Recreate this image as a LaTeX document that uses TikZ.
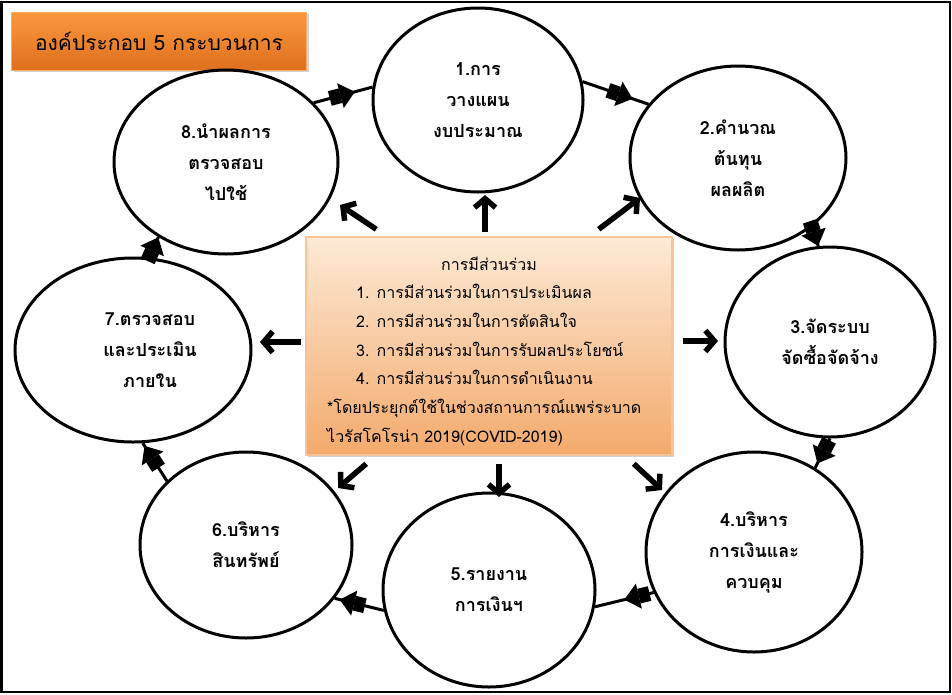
\documentclass[tikz,border=0pt]{standalone}
\usepackage{fontspec}
\newfontfamily\thaifont[Script=Thai]{Loma}
\usetikzlibrary{shapes.geometric, positioning, arrows.meta, decorations.markings, shadows}

\definecolor{titletop}{RGB}{250,152,62}
\definecolor{titlebot}{RGB}{222,112,30}
\definecolor{paneltop}{RGB}{253,234,214}
\definecolor{panelbot}{RGB}{243,170,108}

\begin{document}
\begin{tikzpicture}[x=1pt, y=-1pt]
    \tikzset{
        stage/.style={
            ellipse,
            draw=black,
            line width=3pt,
            inner sep=0pt,
            align=center,
            font=\thaifont\bfseries\fontsize{18}{31}\selectfont
        },
        ring/.style={
            line width=3pt,
            postaction={decorate, decoration={markings,
                mark=at position #1 with {\arrow{Rectangle[length=11pt,width=15pt] Triangle[length=15pt,width=25pt]}}}}
        },
        spoke/.style={line width=5.5pt, -{Straight Barb[length=9pt,width=21pt]}},
        boxtext/.style={anchor=base west, inner sep=0pt, font=\thaifont\fontsize{16}{18}\selectfont}
    }

    \fill[white] (0,0) rectangle (952,694);
    \useasboundingbox (0,0) rectangle (952,694);
    \draw[line width=2.5pt] (1.5,2) rectangle (950,692);

    % title
    \node[rectangle, draw=titletop!80!white, top color=titletop, bottom color=titlebot,
          drop shadow={opacity=0.35}, minimum width=295pt, minimum height=58pt,
          font=\thaifont\fontsize{21}{24}\selectfont] (head) at (159,41) {องค์ประกอบ 5 กระบวนการ};

    % the eight stages
    \node[stage, minimum width=210pt, minimum height=184pt] (c1) at (478,100) {1.การ\\วางแผน\\งบประมาณ};
    \node[stage, minimum width=216pt, minimum height=184pt] (c2) at (738,158) {2.คำนวณ\\ต้นทุน\\ผลผลิต};
    \node[stage, minimum width=210pt, minimum height=190pt] (c3) at (830,342) {3.จัดระบบ\\จัดซื้อจัดจ้าง};
    \node[stage, minimum width=216pt, minimum height=200pt] (c4) at (754,552) {4.บริหาร\\การเงินและ\\ควบคุม};
    \node[stage, minimum width=212pt, minimum height=194pt] (c5) at (489,590) {5.รายงาน\\การเงินฯ};
    \node[stage, minimum width=212pt, minimum height=186pt] (c6) at (246,545) {6.บริหาร\\สินทรัพย์};
    \node[stage, minimum width=236pt, minimum height=184pt,
          label={[stage, draw=none, xshift=17pt]center:7.ตรวจสอบ\\และประเมิน\\ภายใน}] (c7) at (133,350) {};
    \node[stage, minimum width=224pt, minimum height=184pt] (c8) at (226,162) {8.นำผลการ\\ตรวจสอบ\\ไปใช้};

    % cycle
    \draw[ring=0.7] (c8.34) -- (c1.173);
    \draw[ring=0.76] (c1.10) -- (c2.149);
    \draw[ring=0.99] (c2.-43) -- (c3.97);
    \draw[ring=0.85] (c3.-90) -- (c4.54);
    \draw[ring=0.5] (c4.202) -- (c5.-9);
    \draw[ring=0.9] (c5.191) -- (c6.-31);
    \draw[ring=0.93] (c6.141) -- (c7.-84);
    \draw[ring=0.99] (c7.80) -- (c8.228);

    % centre panel
    \node[rectangle, draw=panelbot!70!white, line width=1.5pt, top color=paneltop, bottom color=panelbot,
          drop shadow={opacity=0.35}, minimum width=366pt, minimum height=218pt] (box) at (489,346) {};

    \node[boxtext, anchor=base] (ptitle) at (489,270) {การมีส่วนร่วม};
    \node[boxtext] (p1) at (356,298) {1. การมีส่วนร่วมในการประเมินผล};
    \node[boxtext] (p2) at (356,327) {2. การมีส่วนร่วมในการตัดสินใจ};
    \node[boxtext] (p3) at (356,356) {3. การมีส่วนร่วมในการรับผลประโยชน์};
    \node[boxtext] (p4) at (356,384) {4. การมีส่วนร่วมในการดำเนินงาน};
    \node[boxtext] (note1) at (327,413) {*โดยประยุกต์ใช้ในช่วงสถานการณ์แพร่ระบาด};
    \node[boxtext] (note2) at (327,442) {ไวรัสโคโรน่า 2019(COVID-2019)};

    % spokes
    \coordinate (tipN) at (485,195);
    \coordinate (tipNW) at (340,205);
    \coordinate (tipNE) at (640,198);
    \coordinate (tipW) at (260,342);
    \coordinate (tipE) at (718,341);
    \coordinate (tipSW) at (338,488);
    \coordinate (tipS) at (499,497);
    \coordinate (tipSE) at (662,490);

    \draw[spoke] ([xshift=-4pt,yshift=4pt]box.north) -- (tipN);
    \draw[spoke] ([xshift=71pt,yshift=7pt]box.north west) -- (tipNW);
    \draw[spoke] ([xshift=-74pt,yshift=7pt]box.north east) -- (tipNE);
    \draw[spoke] ([xshift=-4pt,yshift=4pt]box.west) -- (tipW);
    \draw[spoke] ([xshift=10pt,yshift=5pt]box.east) -- (tipE);
    \draw[spoke] ([xshift=61pt,yshift=-8pt]box.south west) -- (tipSW);
    \draw[spoke] ([xshift=10pt,yshift=-8pt]box.south) -- (tipS);
    \draw[spoke] ([xshift=-39pt,yshift=-8pt]box.south east) -- (tipSE);

\end{tikzpicture}
\end{document}
